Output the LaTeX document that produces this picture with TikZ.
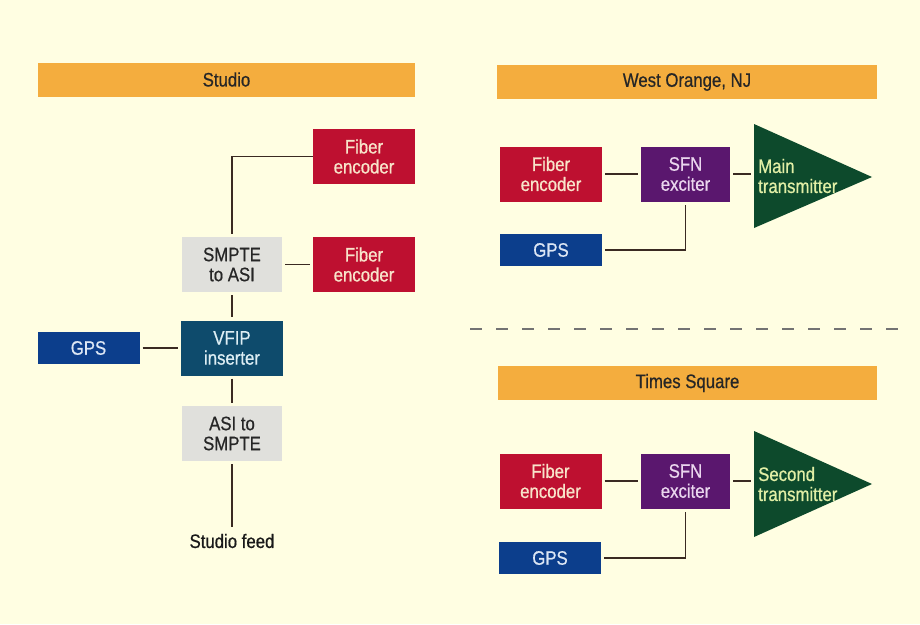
\documentclass[tikz,border=0pt]{standalone}
\usepackage{fontspec}
\setmainfont{Liberation Sans}[FakeStretch=0.86,FakeBold=0.6]
\usetikzlibrary{positioning}
\definecolor{paper}{HTML}{FFFEE2}
\definecolor{barorange}{HTML}{F4AD3E}
\definecolor{fiberred}{HTML}{BE1030}
\definecolor{fibertext}{HTML}{F8E4CA}
\definecolor{gpsblue}{HTML}{0C3E8C}
\definecolor{gpstext}{HTML}{DCE6F4}
\definecolor{vfipblue}{HTML}{0E4B6C}
\definecolor{vfiptext}{HTML}{DDEEF4}
\definecolor{convgray}{HTML}{E0E0DC}
\definecolor{sfnpurple}{HTML}{5A176E}
\definecolor{sfntext}{HTML}{EAD6EE}
\definecolor{txgreen}{HTML}{0D4A2C}
\definecolor{txlabel}{HTML}{E2EFA6}
\definecolor{wirecol}{HTML}{3A2A22}
\newcommand{\lblfont}{\fontsize{19.5}{20}\selectfont}
\tikzset{
  bar/.style={fill=barorange,minimum height=34pt,inner sep=0pt,font=\lblfont,text=black!85},
  box/.style={minimum width=102pt,minimum height=55pt,inner sep=0pt,align=center,font=\lblfont},
  fiber/.style={box,fill=fiberred,text=fibertext},
  gps/.style={box,minimum height=32pt,fill=gpsblue,text=gpstext},
  conv/.style={box,minimum width=100pt,fill=convgray,text=black!85},
  vfip/.style={box,fill=vfipblue,text=vfiptext},
  sfn/.style={box,minimum width=89pt,fill=sfnpurple,text=sfntext},
  txlbl/.style={align=left,anchor=west,inner sep=0pt,font=\lblfont,text=txlabel},
  wire/.style={line width=1.5pt,draw=wirecol,shorten <=3pt,shorten >=3pt},
  sep/.style={line width=1.2pt,draw=black!55,dash pattern=on 12pt off 14pt},
  lbl/.style={font=\lblfont,text=black!90},
}
\begin{document}
\begin{tikzpicture}[x=1pt,y=-1pt]
    \fill[paper] (0,0) rectangle (920,624);
    \useasboundingbox (0,0) rectangle (920,624);
    % ------------- left: studio -------------
    \begin{scope}
      \node[bar,minimum width=377pt] (studiobar) at (226.5,79.5) {Studio};
      \node[fiber] (fibA) at (364,156.5) {Fiber\\encoder};
      \node[fiber] (fibB) at (364,264.5) {Fiber\\encoder};
      \node[conv] (smpte) at (232,264.5) {SMPTE\\to ASI};
      \node[vfip] (vfip) at (232,348) {VFIP\\inserter};
      \node[gps] (gpsA) at (88.5,348) {GPS};
      \node[conv] (asi) at (232,433.5) {ASI to\\SMPTE};
      \node[lbl] (feed) at (232,541) {Studio feed};
      \draw[wire,shorten <=0pt] (fibA.west) -| (smpte.north);
      \draw[wire] (smpte) -- (fibB);
      \draw[wire] (smpte) -- (vfip);
      \draw[wire] (gpsA) -- (vfip);
      \draw[wire] (vfip) -- (asi);
      \draw[wire] (asi) -- (feed);
    \end{scope}
    % separator between the two sites
    \draw[sep] (470,329) -- (905,329);
    % ------------- right top: West Orange -------------
    \begin{scope}
      \node[bar,minimum width=380pt] (westbar) at (687,82) {West Orange, NJ};
      \node[fiber] (fibC) at (551,174) {Fiber\\encoder};
      \node[sfn] (sfnA) at (685.5,174) {SFN\\exciter};
      \node[gps] (gpsB) at (551,250) {GPS};
      \fill[txgreen] (754,124) -- (872,177) -- (754,228) -- cycle;
      \coordinate (txA) at (754,174);
      \node[txlbl] (mainlbl) at (758,176) {Main\\transmitter};
      \draw[wire] (fibC) -- (sfnA);
      \draw[wire] (sfnA) -- (txA);
      \draw[wire] (gpsB) -| (sfnA);
    \end{scope}
    % ------------- right bottom: Times Square -------------
    \begin{scope}
      \node[bar,minimum width=379pt] (timesbar) at (687.5,383) {Times Square};
      \node[fiber] (fibD) at (550.5,481) {Fiber\\encoder};
      \node[sfn] (sfnB) at (685.5,481) {SFN\\exciter};
      \node[gps] (gpsC) at (550,558) {GPS};
      \fill[txgreen] (754,431) -- (872,484) -- (754,537) -- cycle;
      \coordinate (txB) at (754,481);
      \node[txlbl] (secondlbl) at (758,484) {Second\\transmitter};
      \draw[wire] (fibD) -- (sfnB);
      \draw[wire] (sfnB) -- (txB);
      \draw[wire] (gpsC) -| (sfnB);
    \end{scope}
  \end{tikzpicture}
\end{document}
